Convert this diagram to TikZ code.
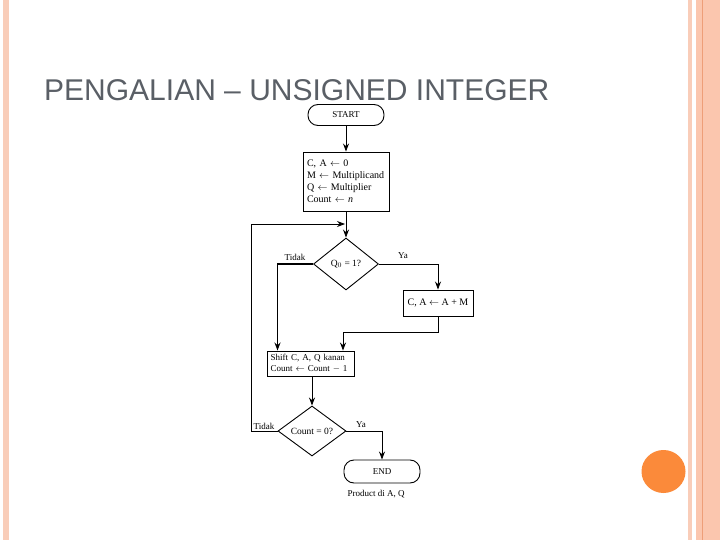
\documentclass[tikz,border=0pt]{standalone}
\usepackage{fontspec}
\setmainfont{Liberation Serif}
\newfontfamily\titlefont[Ligatures=TeX]{Liberation Sans}
\usetikzlibrary{shapes.geometric,arrows.meta}
\definecolor{titlegray}{HTML}{5A5F66}
\definecolor{stripA}{HTML}{F9CDB9}
\definecolor{stripB}{HTML}{FBC6AE}
\definecolor{stripLine}{HTML}{EE9E78}
\definecolor{dotorange}{HTML}{FB8A3A}
\tikzset{
  flow/.style={line width=0.9pt, draw=black},
  arr/.style={flow, -{Stealth[length=8pt,width=6pt]}},
  term/.style={flow, rectangle, rounded corners=10pt, inner sep=0pt, font=\fontsize{9}{10}\selectfont},
  procbox/.style={flow, rectangle, inner sep=0pt, font=\fontsize{10}{12}\selectfont},
  decision/.style={flow, diamond, inner sep=0pt, font=\fontsize{9.5}{11}\selectfont},
  lbl/.style={inner sep=0pt, font=\fontsize{9}{10}\selectfont}
}
\begin{document}
\begin{tikzpicture}[x=1pt,y=-1pt]
\useasboundingbox (0,0) rectangle (720,540);
\fill[white] (0,0) rectangle (720,540);
% border strips
\fill[stripA] (3,0) rectangle (9,540);
\fill[stripA] (688,0) rectangle (692,540);
\fill[stripB] (696,0) rectangle (720,540);
\fill[stripLine] (701.8,0) rectangle (703.2,540);
% orange dot
\fill[dotorange] (663.5,471.5) ellipse (22pt and 21.5pt);
% title
\node[anchor=base west, inner sep=0pt, text=titlegray, font=\titlefont\fontsize{30}{34}\selectfont] (title) at (44,101) {PENGALIAN – UNSIGNED INTEGER};
% nodes
\node[term, minimum width=76pt, minimum height=21pt] (start) at (346,115) {START};
\node[procbox, minimum width=86pt, minimum height=59pt, text width=78pt, align=left] (init) at (346,181.5)
  {C, A $\leftarrow$ 0\\M $\leftarrow$ Multiplicand\\Q $\leftarrow$ Multiplier\\Count $\leftarrow$ \textit{n}};
\node[decision, minimum width=65pt, minimum height=52pt] (d1) at (346,264) {Q$_0$ = 1?};
\node[procbox, minimum width=70pt, minimum height=26pt] (add) at (438,303) {C, A $\leftarrow$ A + M};
\node[procbox, minimum width=87pt, minimum height=25pt, text width=80pt, align=left, font=\fontsize{9}{11}\selectfont] (shift) at (310.5,363.5)
  {Shift C, A, Q kanan\\Count $\leftarrow$ Count $-$ 1};
\node[decision, minimum width=68pt, minimum height=50pt] (d2) at (312,431) {Count = 0?};
\node[term, minimum width=76pt, minimum height=23pt] (end) at (382,471.5) {END};
\node[lbl] (product) at (376,494) {Product di A, Q};
% labels
\node[lbl] (tidak1) at (295,257) {Tidak};
\node[lbl] (ya1) at (403,256) {Ya};
\node[lbl] (tidak2) at (264,426) {Tidak};
\node[lbl] (ya2) at (361,425) {Ya};
% coordinates
\coordinate (join1) at (346,224);
\coordinate (loopL) at (251,224);
\coordinate (join2) at (343,332);
% connectors
\draw[arr] (start) -- (init);
\draw[arr] (init) -- (d1);
\draw[arr] (d2.west) -| (loopL) -- ([xshift=-1pt]join1);
\draw[arr, line width=1.6pt] (d1.west) -| ([xshift=-33pt]shift.north);
\draw[arr] (d1.east) -| (add.north);
\draw[flow] (add.south) |- (join2);
\draw[arr] (join2) -- (join2 |- shift.north);
\draw[arr] (shift.south -| d2.north) -- (d2.north);
\draw[arr] (d2.east) -| (end.north);
\end{tikzpicture}
\end{document}
